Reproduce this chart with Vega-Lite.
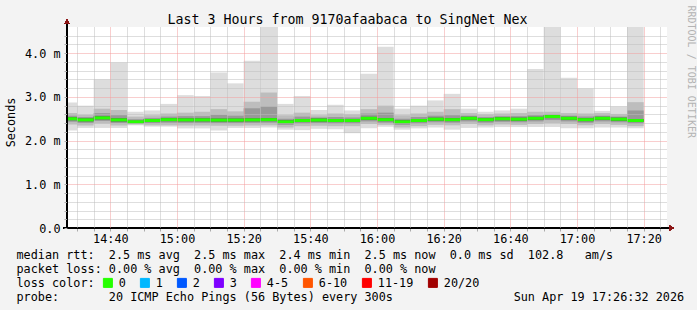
{
  "$schema": "https://vega.github.io/schema/vega-lite/v6.json",
  "width": 600,
  "height": 201,
  "autosize": "none",
  "padding": {"left": 67, "top": 27, "right": 30, "bottom": 82},
  "background": "#f3f3f3",
  "view": {"fill": "#ffffff", "stroke": null},
  "title": {
    "text": "Last 3 Hours from 9170afaabaca to SingNet Nex",
    "font": "DejaVu Sans Mono", "fontSize": 13.3, "fontWeight": "normal", "color": "#000000",
    "anchor": "middle", "frame": "group", "dx": -19.5, "offset": -21
  },
  "data": {"values": [
    {"t":"2026-04-19T14:25:00","t2":"2026-04-19T14:30:00","min":2.23,"a1":2.37,"a2":2.43,"a3":2.465,"med":2.5,"b3":2.535,"b2":2.57,"b1":2.63,"max":2.87,"loss":"0"},
    {"t":"2026-04-19T14:30:00","t2":"2026-04-19T14:35:00","min":2.29,"a1":2.345,"a2":2.405,"a3":2.44,"med":2.475,"b3":2.51,"b2":2.54,"b1":2.59,"max":2.8,"loss":"0"},
    {"t":"2026-04-19T14:35:00","t2":"2026-04-19T14:40:00","min":2.29,"a1":2.39,"a2":2.45,"a3":2.485,"med":2.52,"b3":2.555,"b2":2.63,"b1":2.73,"max":3.4,"loss":"0"},
    {"t":"2026-04-19T14:40:00","t2":"2026-04-19T14:45:00","min":2.29,"a1":2.345,"a2":2.405,"a3":2.44,"med":2.475,"b3":2.51,"b2":2.58,"b1":2.7,"max":3.79,"loss":"0"},
    {"t":"2026-04-19T14:45:00","t2":"2026-04-19T14:50:00","min":2.35,"a1":2.37,"a2":2.39,"a3":2.405,"med":2.43,"b3":2.455,"b2":2.49,"b1":2.55,"max":2.66,"loss":"0"},
    {"t":"2026-04-19T14:50:00","t2":"2026-04-19T14:55:00","min":2.32,"a1":2.35,"a2":2.4,"a3":2.425,"med":2.46,"b3":2.495,"b2":2.52,"b1":2.58,"max":2.69,"loss":"0"},
    {"t":"2026-04-19T14:55:00","t2":"2026-04-19T15:00:00","min":2.32,"a1":2.35,"a2":2.41,"a3":2.445,"med":2.48,"b3":2.515,"b2":2.55,"b1":2.62,"max":2.84,"loss":"0"},
    {"t":"2026-04-19T15:00:00","t2":"2026-04-19T15:05:00","min":2.28,"a1":2.345,"a2":2.405,"a3":2.44,"med":2.475,"b3":2.51,"b2":2.56,"b1":2.64,"max":3.04,"loss":"0"},
    {"t":"2026-04-19T15:05:00","t2":"2026-04-19T15:10:00","min":2.28,"a1":2.345,"a2":2.405,"a3":2.44,"med":2.475,"b3":2.51,"b2":2.56,"b1":2.66,"max":3.02,"loss":"0"},
    {"t":"2026-04-19T15:10:00","t2":"2026-04-19T15:15:00","min":2.23,"a1":2.34,"a2":2.4,"a3":2.435,"med":2.47,"b3":2.505,"b2":2.59,"b1":2.72,"max":3.56,"loss":"0"},
    {"t":"2026-04-19T15:15:00","t2":"2026-04-19T15:20:00","min":2.29,"a1":2.34,"a2":2.4,"a3":2.435,"med":2.47,"b3":2.505,"b2":2.57,"b1":2.67,"max":3.31,"loss":"0"},
    {"t":"2026-04-19T15:20:00","t2":"2026-04-19T15:25:00","min":2.29,"a1":2.345,"a2":2.405,"a3":2.44,"med":2.475,"b3":2.51,"b2":2.74,"b1":2.89,"max":3.83,"loss":"0"},
    {"t":"2026-04-19T15:25:00","t2":"2026-04-19T15:30:00","min":2.3,"a1":2.35,"a2":2.41,"a3":2.445,"med":2.48,"b3":2.515,"b2":2.78,"b1":3.1,"max":4.6,"loss":"0"},
    {"t":"2026-04-19T15:30:00","t2":"2026-04-19T15:35:00","min":2.25,"a1":2.3,"a2":2.36,"a3":2.395,"med":2.43,"b3":2.465,"b2":2.5,"b1":2.58,"max":2.84,"loss":"0"},
    {"t":"2026-04-19T15:35:00","t2":"2026-04-19T15:40:00","min":2.24,"a1":2.33,"a2":2.39,"a3":2.425,"med":2.46,"b3":2.495,"b2":2.55,"b1":2.64,"max":3.02,"loss":"0"},
    {"t":"2026-04-19T15:40:00","t2":"2026-04-19T15:45:00","min":2.27,"a1":2.34,"a2":2.4,"a3":2.435,"med":2.47,"b3":2.505,"b2":2.53,"b1":2.58,"max":2.7,"loss":"0"},
    {"t":"2026-04-19T15:45:00","t2":"2026-04-19T15:50:00","min":2.26,"a1":2.33,"a2":2.39,"a3":2.425,"med":2.46,"b3":2.495,"b2":2.54,"b1":2.62,"max":2.82,"loss":"0"},
    {"t":"2026-04-19T15:50:00","t2":"2026-04-19T15:55:00","min":2.17,"a1":2.33,"a2":2.39,"a3":2.425,"med":2.46,"b3":2.495,"b2":2.53,"b1":2.6,"max":2.69,"loss":"0"},
    {"t":"2026-04-19T15:55:00","t2":"2026-04-19T16:00:00","min":2.28,"a1":2.38,"a2":2.44,"a3":2.475,"med":2.51,"b3":2.545,"b2":2.62,"b1":2.72,"max":3.53,"loss":"0"},
    {"t":"2026-04-19T16:00:00","t2":"2026-04-19T16:05:00","min":2.32,"a1":2.36,"a2":2.41,"a3":2.445,"med":2.48,"b3":2.515,"b2":2.64,"b1":2.8,"max":4.15,"loss":"0"},
    {"t":"2026-04-19T16:05:00","t2":"2026-04-19T16:10:00","min":2.25,"a1":2.3,"a2":2.36,"a3":2.395,"med":2.43,"b3":2.465,"b2":2.5,"b1":2.58,"max":2.73,"loss":"0"},
    {"t":"2026-04-19T16:10:00","t2":"2026-04-19T16:15:00","min":2.28,"a1":2.33,"a2":2.39,"a3":2.425,"med":2.46,"b3":2.495,"b2":2.54,"b1":2.62,"max":2.8,"loss":"0"},
    {"t":"2026-04-19T16:15:00","t2":"2026-04-19T16:20:00","min":2.3,"a1":2.36,"a2":2.42,"a3":2.455,"med":2.49,"b3":2.525,"b2":2.57,"b1":2.66,"max":2.92,"loss":"0"},
    {"t":"2026-04-19T16:20:00","t2":"2026-04-19T16:25:00","min":2.25,"a1":2.35,"a2":2.41,"a3":2.445,"med":2.48,"b3":2.515,"b2":2.58,"b1":2.72,"max":3.07,"loss":"0"},
    {"t":"2026-04-19T16:25:00","t2":"2026-04-19T16:30:00","min":2.29,"a1":2.38,"a2":2.44,"a3":2.475,"med":2.51,"b3":2.545,"b2":2.57,"b1":2.63,"max":2.73,"loss":"0"},
    {"t":"2026-04-19T16:30:00","t2":"2026-04-19T16:35:00","min":2.3,"a1":2.35,"a2":2.41,"a3":2.445,"med":2.48,"b3":2.515,"b2":2.54,"b1":2.6,"max":2.66,"loss":"0"},
    {"t":"2026-04-19T16:35:00","t2":"2026-04-19T16:40:00","min":2.31,"a1":2.37,"a2":2.43,"a3":2.465,"med":2.5,"b3":2.535,"b2":2.56,"b1":2.62,"max":2.69,"loss":"0"},
    {"t":"2026-04-19T16:40:00","t2":"2026-04-19T16:45:00","min":2.31,"a1":2.36,"a2":2.42,"a3":2.455,"med":2.49,"b3":2.525,"b2":2.56,"b1":2.63,"max":2.73,"loss":"0"},
    {"t":"2026-04-19T16:45:00","t2":"2026-04-19T16:50:00","min":2.31,"a1":2.38,"a2":2.44,"a3":2.475,"med":2.51,"b3":2.545,"b2":2.58,"b1":2.66,"max":3.64,"loss":"0"},
    {"t":"2026-04-19T16:50:00","t2":"2026-04-19T16:55:00","min":2.31,"a1":2.4,"a2":2.47,"a3":2.515,"med":2.55,"b3":2.585,"b2":2.6,"b1":2.66,"max":4.6,"loss":"0"},
    {"t":"2026-04-19T16:55:00","t2":"2026-04-19T17:00:00","min":2.28,"a1":2.38,"a2":2.44,"a3":2.475,"med":2.51,"b3":2.545,"b2":2.57,"b1":2.63,"max":3.44,"loss":"0"},
    {"t":"2026-04-19T17:00:00","t2":"2026-04-19T17:05:00","min":2.28,"a1":2.35,"a2":2.41,"a3":2.445,"med":2.48,"b3":2.515,"b2":2.55,"b1":2.62,"max":3.19,"loss":"0"},
    {"t":"2026-04-19T17:05:00","t2":"2026-04-19T17:10:00","min":2.3,"a1":2.38,"a2":2.44,"a3":2.475,"med":2.51,"b3":2.545,"b2":2.57,"b1":2.63,"max":2.68,"loss":"0"},
    {"t":"2026-04-19T17:10:00","t2":"2026-04-19T17:15:00","min":2.3,"a1":2.36,"a2":2.42,"a3":2.455,"med":2.49,"b3":2.525,"b2":2.55,"b1":2.61,"max":2.78,"loss":"0"},
    {"t":"2026-04-19T17:15:00","t2":"2026-04-19T17:20:00","min":2.28,"a1":2.33,"a2":2.39,"a3":2.425,"med":2.46,"b3":2.495,"b2":2.69,"b1":2.88,"max":4.6,"loss":"0"}
  ]},
  "layer": [
    {
      "encoding": {
        "x": {
          "field": "t", "type": "temporal",
          "scale": {"domain": [{"year": 2026, "month": 4, "date": 19, "hours": 14, "minutes": 27}, {"year": 2026, "month": 4, "date": 19, "hours": 17, "minutes": 27}]},
          "axis": {
            "values": [
              {"year": 2026, "month": 4, "date": 19, "hours": 14, "minutes": 30},
              {"year": 2026, "month": 4, "date": 19, "hours": 14, "minutes": 35},
              {"year": 2026, "month": 4, "date": 19, "hours": 14, "minutes": 40},
              {"year": 2026, "month": 4, "date": 19, "hours": 14, "minutes": 45},
              {"year": 2026, "month": 4, "date": 19, "hours": 14, "minutes": 50},
              {"year": 2026, "month": 4, "date": 19, "hours": 14, "minutes": 55},
              {"year": 2026, "month": 4, "date": 19, "hours": 15, "minutes": 0},
              {"year": 2026, "month": 4, "date": 19, "hours": 15, "minutes": 5},
              {"year": 2026, "month": 4, "date": 19, "hours": 15, "minutes": 10},
              {"year": 2026, "month": 4, "date": 19, "hours": 15, "minutes": 15},
              {"year": 2026, "month": 4, "date": 19, "hours": 15, "minutes": 20},
              {"year": 2026, "month": 4, "date": 19, "hours": 15, "minutes": 25},
              {"year": 2026, "month": 4, "date": 19, "hours": 15, "minutes": 30},
              {"year": 2026, "month": 4, "date": 19, "hours": 15, "minutes": 35},
              {"year": 2026, "month": 4, "date": 19, "hours": 15, "minutes": 40},
              {"year": 2026, "month": 4, "date": 19, "hours": 15, "minutes": 45},
              {"year": 2026, "month": 4, "date": 19, "hours": 15, "minutes": 50},
              {"year": 2026, "month": 4, "date": 19, "hours": 15, "minutes": 55},
              {"year": 2026, "month": 4, "date": 19, "hours": 16, "minutes": 0},
              {"year": 2026, "month": 4, "date": 19, "hours": 16, "minutes": 5},
              {"year": 2026, "month": 4, "date": 19, "hours": 16, "minutes": 10},
              {"year": 2026, "month": 4, "date": 19, "hours": 16, "minutes": 15},
              {"year": 2026, "month": 4, "date": 19, "hours": 16, "minutes": 20},
              {"year": 2026, "month": 4, "date": 19, "hours": 16, "minutes": 25},
              {"year": 2026, "month": 4, "date": 19, "hours": 16, "minutes": 30},
              {"year": 2026, "month": 4, "date": 19, "hours": 16, "minutes": 35},
              {"year": 2026, "month": 4, "date": 19, "hours": 16, "minutes": 40},
              {"year": 2026, "month": 4, "date": 19, "hours": 16, "minutes": 45},
              {"year": 2026, "month": 4, "date": 19, "hours": 16, "minutes": 50},
              {"year": 2026, "month": 4, "date": 19, "hours": 16, "minutes": 55},
              {"year": 2026, "month": 4, "date": 19, "hours": 17, "minutes": 0},
              {"year": 2026, "month": 4, "date": 19, "hours": 17, "minutes": 5},
              {"year": 2026, "month": 4, "date": 19, "hours": 17, "minutes": 10},
              {"year": 2026, "month": 4, "date": 19, "hours": 17, "minutes": 15},
              {"year": 2026, "month": 4, "date": 19, "hours": 17, "minutes": 20},
              {"year": 2026, "month": 4, "date": 19, "hours": 17, "minutes": 25}
            ],
            "labelExpr": "minutes(datum.value) % 20 == 0 ? timeFormat(datum.value, '%H:%M') : ''",
            "grid": true,
            "gridColor": {"condition": {"test": "minutes(datum.value) % 20 == 0", "value": "#f29c9c"}, "value": "#bdbdbd"},
            "gridDash": [1, 1], "gridOpacity": 1, "gridWidth": 1,
            "ticks": true, "tickSize": 3, "tickColor": "#aaaaaa",
            "domainColor": "#000000",
            "labelFont": "DejaVu Sans Mono", "labelFontSize": 11.8, "labelColor": "#000000", "labelPadding": 2, "labelOverlap": false, "labelFlush": false,
            "title": [
              "median rtt:\u00a0\u00a02.5 ms avg\u00a0\u00a02.5 ms max\u00a0\u00a02.4 ms min\u00a0\u00a02.5 ms now\u00a0\u00a00.0 ms sd\u00a0\u00a0102.8\u00a0\u00a0\u00a0am/s",
              "packet loss: 0.00 % avg\u00a0\u00a00.00 % max\u00a0\u00a00.00 % min\u00a0\u00a00.00 % now",
              "loss color:",
              "probe:\u00a0\u00a0\u00a0\u00a0\u00a0\u00a0\u00a020 ICMP Echo Pings (56 Bytes) every 300s\u00a0\u00a0\u00a0\u00a0\u00a0\u00a0\u00a0\u00a0\u00a0\u00a0\u00a0\u00a0\u00a0\u00a0\u00a0\u00a0\u00a0Sun Apr 19 17:26:32 2026"
            ],
            "titleFont": "DejaVu Sans Mono", "titleFontSize": 11.8, "titleFontWeight": "normal", "titleColor": "#000000",
            "titleAnchor": "start", "titleAlign": "left", "titleX": -51, "titleY": 30, "titleBaseline": "alphabetic", "titleLineHeight": 14,
            "zindex": 1
          }
        },
        "x2": {"field": "t2"}
      },
      "layer": [
        {
          "mark": {"type": "rect", "color": "#dddddd", "clip": true},
          "encoding": {
            "y": {
              "field": "min", "type": "quantitative",
              "scale": {"domain": [0, 4.6], "nice": false, "zero": true},
              "axis": {
                "values": [0, 0.2, 0.4, 0.6, 0.8, 1, 1.2, 1.4, 1.6, 1.8, 2, 2.2, 2.4, 2.6, 2.8, 3, 3.2, 3.4, 3.6, 3.8, 4, 4.2, 4.4],
                "labelExpr": "abs(datum.value - round(datum.value)) < 0.001 ? (datum.value == 0 ? '0.0\u00a0\u00a0' : format(datum.value, '.1f') + ' m') : ''",
                "grid": true,
                "gridColor": {"condition": {"test": "abs(datum.value - round(datum.value)) < 0.001", "value": "#f29c9c"}, "value": "#bdbdbd"},
                "gridDash": [1, 1], "gridOpacity": 1, "gridWidth": 1,
                "ticks": true, "tickSize": 3, "tickColor": "#aaaaaa",
                "domainColor": "#000000",
                "labelFont": "DejaVu Sans Mono", "labelFontSize": 11.8, "labelColor": "#000000", "labelPadding": 4, "labelOverlap": false, "labelFlush": false,
                "title": "Seconds", "titleFont": "DejaVu Sans Mono", "titleFontSize": 11.8, "titleFontWeight": "normal", "titleColor": "#000000",
                "titleX": -57, "titleY": 95, "titleBaseline": "middle", "titleAlign": "center", "titleAngle": 270,
                "zindex": 1
              }
            },
            "y2": {"field": "max"}
          }
        },
        {
          "mark": {"type": "rect", "color": "#bdbdbd", "clip": true},
          "encoding": {
            "y": {
              "field": "a1", "type": "quantitative",
              "axis": {
                "orient": "right", "labels": false, "ticks": false, "domain": false, "grid": false,
                "title": "RRDTOOL / TOBI OETIKER", "titleFont": "DejaVu Sans Mono", "titleFontSize": 10, "titleFontWeight": "normal", "titleColor": "#b4b4b4",
                "titleAngle": 90, "titleX": 23, "titleY": -22, "titleAlign": "left", "titleBaseline": "middle"
              }
            },
            "y2": {"field": "b1"}
          }
        },
        {
          "mark": {"type": "rect", "color": "#999999", "clip": true},
          "encoding": {
            "y": {"field": "a2", "type": "quantitative", "axis": null},
            "y2": {"field": "b2"}
          }
        },
        {
          "mark": {"type": "rect", "color": "#555555", "clip": true},
          "encoding": {
            "y": {"field": "a3", "type": "quantitative", "axis": null},
            "y2": {"field": "b3"}
          }
        },
        {
          "mark": {"type": "rule", "strokeWidth": 3, "clip": true},
          "encoding": {
            "y": {"field": "med", "type": "quantitative", "axis": null},
            "color": {
              "field": "loss", "type": "nominal",
              "scale": {
                "domain": ["0", "1", "2", "3", "4-5", "6-10", "11-19", "20/20"],
                "range": ["#26ff00", "#00b8ff", "#0059ff", "#7e00ff", "#ff00ff", "#ff5500", "#ff0000", "#a10000"]
              },
              "legend": {
                "orient": "none", "legendX": 35, "legendY": 250, "direction": "horizontal",
                "title": null,
                "labelFont": "DejaVu Sans Mono", "labelFontSize": 11.8, "labelColor": "#000000", "labelOffset": 5,
                "symbolType": "square", "symbolSize": 81, "symbolStrokeWidth": 1, "symbolStrokeColor": "#000000", "symbolOpacity": 1,
                "columnPadding": 12, "gridAlign": "none",
                "encode": {"symbols": {"update": {"fill": {"scale": "color", "field": "value"}, "stroke": {"value": "#000000"}, "strokeWidth": {"value": 1}, "opacity": {"value": 1}}}}
              }
            }
          }
        }
      ],
      "resolve": {"axis": {"y": "independent"}}
    },
    {
      "mark": {"type": "rule", "color": "#000000", "strokeWidth": 1, "clip": false},
      "encoding": {
        "x": {"datum": {"year": 2026, "month": 4, "date": 19, "hours": 14, "minutes": 27}, "type": "temporal", "axis": null},
        "y": {"datum": 0, "type": "quantitative", "axis": null},
        "y2": {"datum": 4.7}
      }
    },
    {
      "mark": {"type": "rule", "color": "#000000", "strokeWidth": 1, "clip": false},
      "encoding": {
        "x": {"datum": {"year": 2026, "month": 4, "date": 19, "hours": 14, "minutes": 26}, "type": "temporal", "axis": null},
        "x2": {"datum": {"year": 2026, "month": 4, "date": 19, "hours": 17, "minutes": 28}},
        "y": {"datum": 0, "type": "quantitative", "axis": null}
      }
    },
    {
      "mark": {"type": "point", "shape": "triangle-up", "filled": true, "size": 28, "color": "#8b1515", "opacity": 1, "clip": false},
      "encoding": {
        "x": {"datum": {"year": 2026, "month": 4, "date": 19, "hours": 14, "minutes": 27}, "type": "temporal", "axis": null},
        "y": {"datum": 4.72, "type": "quantitative", "axis": null}
      }
    },
    {
      "mark": {"type": "point", "shape": "triangle-right", "filled": true, "size": 28, "color": "#8b1515", "opacity": 1, "clip": false},
      "encoding": {
        "x": {"datum": {"year": 2026, "month": 4, "date": 19, "hours": 17, "minutes": 28, "seconds": 20}, "type": "temporal", "axis": null},
        "y": {"datum": 0, "type": "quantitative", "axis": null}
      }
    }
  ],
  "resolve": {"axis": {"x": "independent", "y": "independent"}}
}
